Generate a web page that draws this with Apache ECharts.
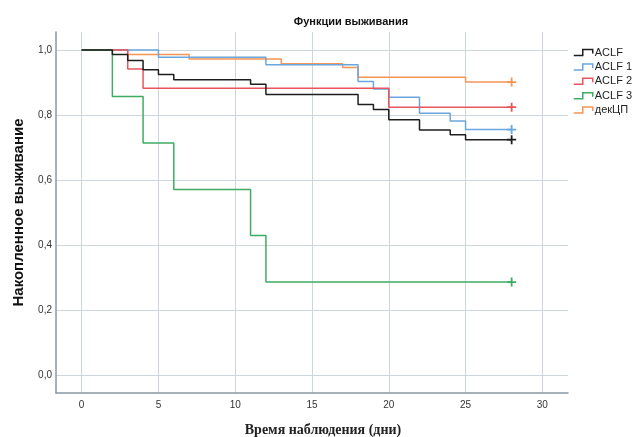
<!DOCTYPE html>
<html>
<head>
<meta charset="utf-8">
<script src="https://cdn.jsdelivr.net/npm/echarts@6/dist/echarts.min.js"></script>
<style>html,body{margin:0;padding:0;background:#fff;}#c{width:635px;height:437px;}</style>
</head>
<body>
<div id="c"></div>
<script>
// ---- data ----
const groupNames = ['ACLF', 'ACLF 1', 'ACLF 2', 'ACLF 3', 'декЦП'];
const timesACLF  = [0, 2, 3, 4, 5, 6, 11, 12, 18, 19, 20, 22, 24, 25, 28];
const survACLF   = [1, 0.986, 0.967, 0.939, 0.924, 0.908, 0.894, 0.863, 0.832, 0.817, 0.785, 0.754, 0.739, 0.724, 0.724];
const timesACLF1 = [0, 5, 12, 18, 19, 20, 22, 24, 25, 28];
const survACLF1  = [1, 0.977, 0.954, 0.903, 0.880, 0.854, 0.805, 0.781, 0.755, 0.755];
const timesACLF2 = [0, 3, 4, 20, 28];
const survACLF2  = [1, 0.941, 0.882, 0.824, 0.824];
const timesACLF3 = [0, 2, 4, 6, 11, 12, 28];
const survACLF3  = [1, 0.857, 0.714, 0.571, 0.429, 0.286, 0.286];
const timesDek   = [0, 3, 7, 13, 17, 18, 25, 28];
const survDek    = [1, 0.986, 0.972, 0.957, 0.946, 0.916, 0.901, 0.901];
const xTicks = [0, 5, 10, 15, 20, 25, 30];
const yTicks = [0, 0.2, 0.4, 0.6, 0.8, 1.0];

const colors = ['#1e1e1e', '#6aa6de', '#e8555d', '#3fac62', '#f79457'];
const plusPath = 'path://M4,0H6V4H10V6H6V10H4V6H0V4H4Z';
const stepIcon = 'path://M0,6L9,6L9,0L19,0L19,4';

function makeSeries(name, times, surv, color, z) {
  const data = times.map((t, i) => {
    const item = { value: [t, surv[i]], symbolSize: 0 };
    if (i === times.length - 1) item.symbolSize = 9;
    return item;
  });
  return {
    name: name, type: 'line', step: 'end', data: data, z: z,
    symbol: plusPath, showSymbol: true, showAllSymbol: true, symbolKeepAspect: true,
    lineStyle: { color: color, width: 1.5 },
    itemStyle: { color: color },
    emphasis: { disabled: true },
    silent: true
  };
}

const chart = echarts.init(document.getElementById('c'), null, { renderer: 'canvas' });
chart.setOption({
  animation: false,
  backgroundColor: '#ffffff',
  title: {
    text: 'Функции выживания', left: 346, top: 11, textAlign: 'center',
    textStyle: { fontFamily: 'Liberation Sans', fontSize: 11, fontWeight: 'bold', color: '#111' }
  },
  grid: { left: 56, right: 67, top: 32, bottom: 44, containLabel: false, outerBoundsMode: 'none' },
  legend: {
    orient: 'vertical', left: 568, top: 42,
    icon: stepIcon, itemWidth: 19, itemHeight: 6, itemGap: 3.4,
    itemStyle: { color: 'transparent', borderWidth: 1.5 },
    textStyle: { fontFamily: 'Liberation Sans', fontSize: 11, color: '#222', padding: [0, 0, 0, -3] },
    data: groupNames.map((n, i) => ({ name: n, itemStyle: { color: 'transparent', borderColor: colors[i], borderWidth: 1.5 } }))
  },
  xAxis: {
    type: 'value', min: -1.67, max: 31.67,
    name: 'Время наблюдения (дни)', nameLocation: 'middle', nameGap: 30,
    nameTextStyle: { fontFamily: 'Liberation Serif', fontSize: 14, fontWeight: 'bold', color: '#222', padding: [0, 0, 0, 22] },
    axisLine: { show: true, onZero: false, lineStyle: { color: '#8c98a4', width: 1.5 } },
    axisTick: { show: false, customValues: xTicks },
    axisLabel: { customValues: xTicks, margin: 7, fontFamily: 'Liberation Sans', fontSize: 10, color: '#333' },
    splitLine: { show: true, lineStyle: { color: '#cdd5dd', width: 1 } }
  },
  yAxis: {
    type: 'value', min: -0.055, max: 1.055,
    name: 'Накопленное выживание', nameLocation: 'middle', nameGap: 30, nameRotate: 90,
    nameTextStyle: { fontFamily: 'Liberation Sans', fontSize: 15, fontWeight: 'bold', color: '#111' },
    axisLine: { show: true, onZero: false, lineStyle: { color: '#8c98a4', width: 1.5 } },
    axisTick: { show: false, customValues: yTicks },
    axisLabel: {
      customValues: yTicks, margin: 4, fontFamily: 'Liberation Sans', fontSize: 10, color: '#333',
      formatter: v => v.toFixed(1).replace('.', ',')
    },
    splitLine: { show: true, lineStyle: { color: '#cdd5dd', width: 1 } }
  },
  series: [
    makeSeries(groupNames[0], timesACLF, survACLF, colors[0], 6),
    makeSeries(groupNames[1], timesACLF1, survACLF1, colors[1], 3),
    makeSeries(groupNames[2], timesACLF2, survACLF2, colors[2], 4),
    makeSeries(groupNames[3], timesACLF3, survACLF3, colors[3], 5),
    makeSeries(groupNames[4], timesDek, survDek, colors[4], 2)
  ]
});
</script>
</body>
</html>
